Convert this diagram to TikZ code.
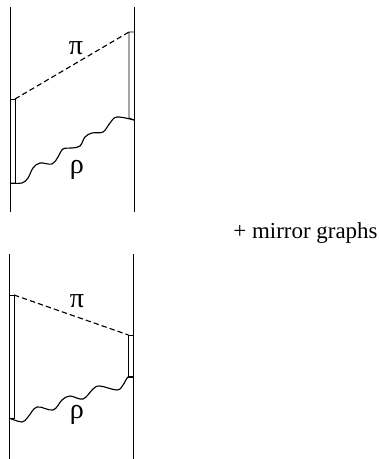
\documentclass[tikz,border=0pt]{standalone}
\usepackage{fontspec}
\setmainfont{Liberation Serif}

\tikzset{
    wavy/.style={line width=0.8pt},
    meson/.style={line width=0.8pt,dash pattern=on 3.8pt off 2.2pt},
    label/.style={font=\fontsize{16.3}{18}\selectfont,inner sep=0pt},
    greek/.style={font=\fontsize{20}{22}\selectfont,inner sep=0pt}
}

\begin{document}
\begin{tikzpicture}[x=0.025cm,y=-0.025cm,line width=0.65pt]
            \useasboundingbox (0,0) rectangle (379,459);
            % top graph
            \coordinate (tl1) at (10,7);
            \coordinate (tl2) at (10,212);
            \coordinate (tr1) at (134,7);
            \coordinate (tr2) at (134,212);
            \coordinate (ta) at (15,99);
            \coordinate (tb) at (129,32);
            \coordinate (tc) at (10,183);
            \coordinate (td) at (134,120);
            \draw (tl1) -- (tl2);
            \draw (tr1) -- (tr2);
            \draw (10,99) -- (ta) -- (15,183) -- (tc);
            \draw (134,32) -- (tb) -- (129,118) -- (td);
            \draw [meson] (ta) -- (tb);
            \draw [wavy] plot [smooth,tension=0.6] coordinates {(tc) (22,183) (28,178) (33,168) (40,163) (52,164) (58,157) (63,149) (72,148) (80,146) (85,137) (92,133) (103,132) (110,123) (117,117) (td)};
            \node [greek] (tpi) at (76,48) {π};
            \node [greek] (trho) at (77,170) {ρ};
            % bottom graph
            \coordinate (bl1) at (9,254);
            \coordinate (bl2) at (9,459);
            \coordinate (br1) at (133.5,254);
            \coordinate (br2) at (133.5,459);
            \coordinate (ba) at (14,295);
            \coordinate (bb) at (128.5,335);
            \coordinate (bc) at (9,418);
            \coordinate (bd) at (133.5,377);
            \draw (bl1) -- (bl2);
            \draw (br1) -- (br2);
            \draw (9,295) -- (ba) -- (14,418) -- (bc);
            \draw (133.5,335) -- (bb) -- (128.5,377) -- (bd);
            \draw [meson] (ba) -- (bb);
            \draw [wavy] plot [smooth,tension=0.6] coordinates {(bc) (22,422) (28,417) (37,407) (53,410) (62,400) (70,396) (83,399) (93,389) (100,386) (117,390) (123,385) (128,377) (bd)};
            \node [greek] (bpi) at (77,301) {π};
            \node [greek] (brho) at (77,415) {ρ};
            \node [label,anchor=base west] (mirror) at (233,238) {+ mirror graphs};
        \end{tikzpicture}
\end{document}
